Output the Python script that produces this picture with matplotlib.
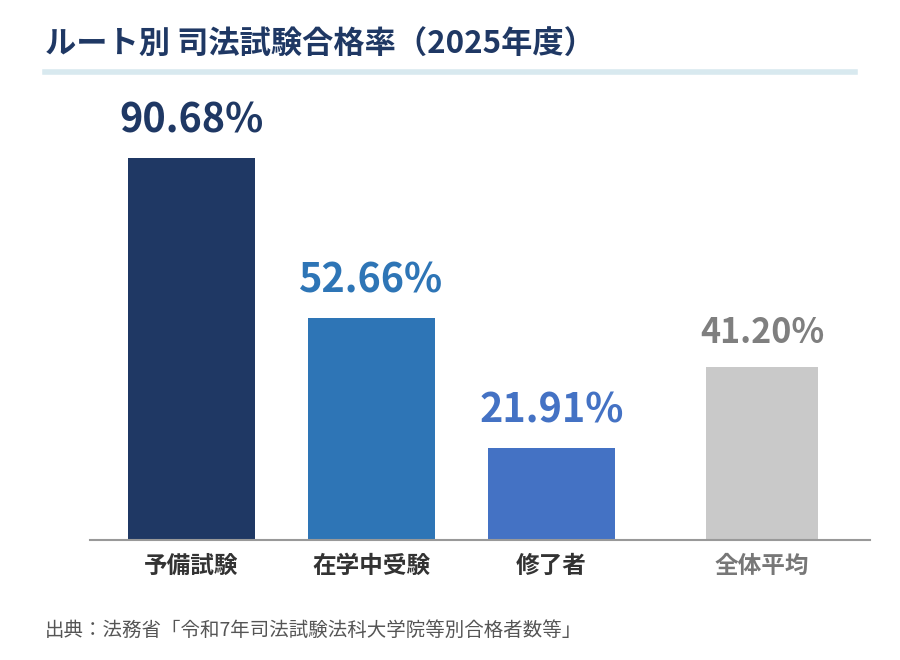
import matplotlib
matplotlib.use("Agg")
import matplotlib.pyplot as plt

plt.rcParams['font.family'] = ['Noto Sans CJK JP', 'DejaVu Sans']

# data
categories = ["予備試験", "在学中受験", "修了者", "全体平均"]
rates = [90.68, 52.66, 21.91, 41.20]
bar_colors = ["#1f3864", "#2e75b6", "#4472c4", "#c9c9c9"]
value_colors = ["#1f3864", "#2e75b6", "#4472c4", "#7f7f7f"]
label_colors = ["#333333", "#333333", "#333333", "#777777"]

# layout (average bar set apart, a bit narrower)
xpos = [0, 1, 2, 3.17]
widths = [0.706, 0.706, 0.706, 0.622]
value_sizes = [28.5, 28.5, 28.5, 24.5]

fig = plt.figure(figsize=(9, 6.6), dpi=100)
ax = fig.add_axes([90 / 900, 120 / 660, 780 / 900, 440 / 660])

ax.bar(xpos, rates, width=widths, color=bar_colors)
ax.set_xlim(-0.564, 3.769)
ax.set_ylim(0, 104.5)

for x, v, c, s in zip(xpos, rates, value_colors, value_sizes):
    ax.annotate(f"{v:.2f}%", (x, v), xytext=(0, 12), textcoords="offset points",
                ha="center", va="bottom", fontsize=s, fontweight="bold", color=c)

ax.set_xticks(xpos)
ax.set_xticklabels(categories, fontsize=17, fontweight="bold")
for lbl, c in zip(ax.get_xticklabels(), label_colors):
    lbl.set_color(c)
ax.tick_params(axis="x", length=0, pad=10)
ax.set_yticks([])
for side in ["top", "right", "left"]:
    ax.spines[side].set_visible(False)
ax.spines["bottom"].set_color("#999999")
ax.spines["bottom"].set_linewidth(1.5)

# title and underline
fig.text(45 / 900, 1 - 45 / 660, "ルート別 司法試験合格率（2025年度）", fontsize=22.5,
         fontweight="bold", color="#1f3864", ha="left", va="center")
fig.add_artist(plt.Line2D([45 / 900, 855 / 900], [1 - 72 / 660, 1 - 72 / 660],
                          color="#d8e9ef", linewidth=4))

# source note
fig.text(45 / 900, 1 - 630 / 660, "出典：法務省「令和7年司法試験法科大学院等別合格者数等」",
         fontsize=14, color="#555555", ha="left", va="center")

fig.savefig("out.png", dpi=100, facecolor="white")
